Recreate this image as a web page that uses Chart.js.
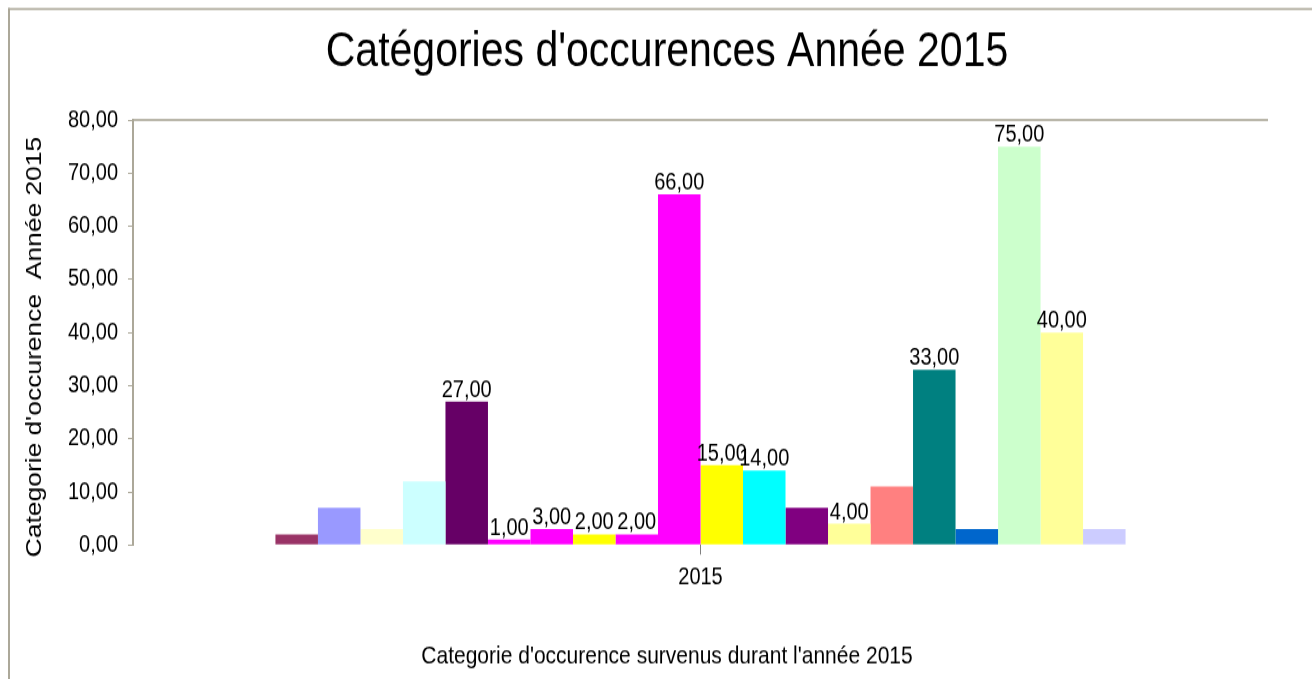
<!DOCTYPE html>
<html><head><meta charset="utf-8">
<script src="https://cdn.jsdelivr.net/npm/chart.js@4/dist/chart.umd.min.js"></script>
<style>
html,body{margin:0;padding:0;background:#fff;overflow:hidden;}
#wrap{position:absolute;left:0;top:0;width:1312px;height:679px;overflow:hidden;}
#c{position:absolute;left:0;top:0;transform:scaleY(1.19965);transform-origin:0 0;}
</style></head><body>
<div id="wrap"><canvas id="c" width="1312" height="566"></canvas></div>
<script>
const categories = ['2015'];
const seriesValues = [2, 7, 3, 12, 27, 1, 3, 2, 2, 66, 15, 14, 7, 4, 11, 33, 3, 75, 40, 3];
const seriesColors = ['#993366','#9999FF','#FFFFCC','#CCFFFF','#660066','#FF00FF','#FF00FF','#FFFF00','#FF00FF','#FF00FF',
                      '#FFFF00','#00FFFF','#800080','#FFFF99','#FF8080','#008080','#0066CC','#CCFFCC','#FFFF99','#CCCCFF'];
const showValueLabel = [false,false,false,false,true,true,true,true,true,true,true,true,false,true,false,true,false,true,true,false];
const yTickLabels = ['0,00','10,00','20,00','30,00','40,00','50,00','60,00','70,00','80,00'];
const chartTitle = "Catégories d'occurences Année 2015";
const yTitle = "Categorie d'occurence  Année 2015";
const xTitle = "Categorie d'occurence survenus durant l'année 2015";

const K = 679 / 566;
const FRAME = '#ACA899';
const FONT = '"Liberation Sans", Arial, sans-serif';
Chart.defaults.font.family = FONT;
Chart.defaults.color = '#000';

const fmt = v => v.toFixed(2).replace('.', ',');

const framePlugin = {
  id: 'frame',
  beforeDraw(chart) {
    const ctx = chart.ctx, w = chart.width, h = chart.height;
    ctx.save();
    ctx.fillStyle = '#fff';
    ctx.fillRect(0, 0, w, h);
    ctx.fillStyle = FRAME;
    ctx.fillRect(8, 8 / K, 2, h);
    ctx.fillRect(8, 8 / K, w, 2 / K);
    ctx.restore();
  },
  afterDraw(chart) {
    const ctx = chart.ctx, a = chart.chartArea;
    ctx.save();
    ctx.fillStyle = FRAME;
    ctx.fillRect(a.left - 1, a.top - 1 / K, a.right - a.left + 1, 2 / K);
    // vertical axis title
    ctx.translate(35, 347 / K);
    ctx.rotate(-Math.PI / 2);
    ctx.font = '22px ' + FONT;
    ctx.fillStyle = '#000';
    ctx.textAlign = 'center';
    ctx.textBaseline = 'middle';
    ctx.fillText(yTitle, 0, 0);
    ctx.restore();
  }
};

const valueLabelPlugin = {
  id: 'valueLabels',
  afterDatasetsDraw(chart) {
    const ctx = chart.ctx;
    ctx.save();
    ctx.font = '20px ' + FONT;
    ctx.fillStyle = '#000';
    ctx.textAlign = 'center';
    ctx.textBaseline = 'alphabetic';
    chart.data.datasets.forEach((ds, i) => {
      if (!showValueLabel[i]) return;
      const el = chart.getDatasetMeta(i).data[0];
      ctx.fillText(fmt(ds.data[0]), el.x, el.y - 4);
    });
    ctx.restore();
  }
};

const datasets = seriesValues.map((v, i) => ({
  label: 'S' + (i + 1),
  data: [v],
  backgroundColor: seriesColors[i],
  borderWidth: 0,
  categoryPercentage: 0.749,
  barPercentage: 1.0
}));

new Chart(document.getElementById('c'), {
  type: 'bar',
  data: { labels: categories, datasets },
  plugins: [framePlugin, valueLabelPlugin],
  options: {
    responsive: false,
    animation: false,
    events: [],
    layout: { padding: { left: 22, right: 0, top: 0, bottom: 0 } },
    plugins: {
      legend: { display: false },
      tooltip: { enabled: false },
      title: {
        display: true, text: chartTitle,
        font: { size: 41, weight: 'normal' }, color: '#000',
        padding: { top: 18.7, bottom: 32.1 }
      },
      subtitle: {
        display: true, position: 'bottom', text: xTitle,
        font: { size: 21, weight: 'normal' }, color: '#000',
        padding: { top: 40.8, bottom: 5.7 }
      }
    },
    scales: {
      x: {
        grid: { display: true, drawOnChartArea: false, drawTicks: true, tickLength: 8, offset: false, color: '#808080' },
        border: { display: false },
        ticks: { font: { size: 20 }, padding: 7, color: '#000' },
        afterFit(s) { s.height = 40; }
      },
      y: {
        min: 0, max: 80,
        grid: { display: true, drawOnChartArea: false, drawTicks: true, tickLength: 5, color: FRAME },
        border: { display: true, color: FRAME, width: 2 },
        ticks: { stepSize: 10, autoSkip: false, padding: 10, font: { size: 20 }, color: '#000',
                 callback: (v, i) => yTickLabels[i] },
        title: { display: false },
        afterFit(s) { s.width = 111; }
      },
      yr: {
        position: 'right', display: true,
        grid: { display: false }, border: { display: false },
        ticks: { display: false },
        afterFit(s) { s.width = 44; }
      }
    }
  }
});
</script>
</body></html>
